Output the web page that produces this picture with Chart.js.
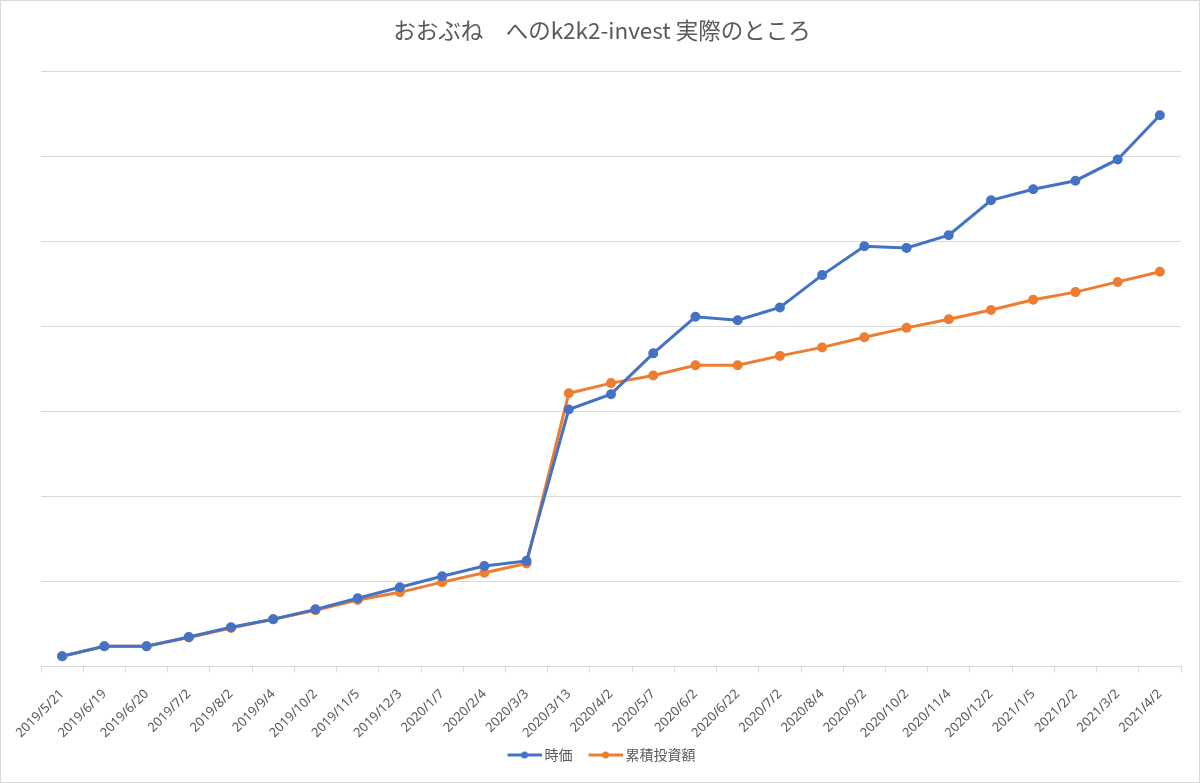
<!DOCTYPE html>
<html>
<head>
<meta charset="utf-8">
<script src="https://cdn.jsdelivr.net/npm/chart.js@4/dist/chart.umd.min.js"></script>
<style>
  html, body { margin: 0; padding: 0; background: #fff; }
  #wrap { width: 1200px; height: 783px; position: relative; }
</style>
</head>
<body>
<div id="wrap"><canvas id="chart" width="1200" height="783"></canvas></div>
<script>
// data (one grid step = 100000)
var labels = ['2019/5/21', '2019/6/19', '2019/6/20', '2019/7/2', '2019/8/2', '2019/9/4', '2019/10/2',
  '2019/11/5', '2019/12/3', '2020/1/7', '2020/2/4', '2020/3/3', '2020/3/13', '2020/4/2', '2020/5/7',
  '2020/6/2', '2020/6/22', '2020/7/2', '2020/8/4', '2020/9/2', '2020/10/2', '2020/11/4', '2020/12/2',
  '2021/1/5', '2021/2/2', '2021/3/2', '2021/4/2'];
var marketValue = [11800, 23500, 23500, 34500, 46000, 55300, 67000, 80000, 93000, 106000, 118000, 124000,
  302000, 320000, 368000, 411000, 407000, 422000, 460000, 494000, 492000, 507000, 548000, 561000,
  571000, 596000, 648000];
var invested = [11800, 23500, 23500, 34000, 45000, 55300, 66000, 78000, 87000, 99000, 110000, 121000,
  321000, 333000, 342000, 354000, 354000, 365000, 375000, 387000, 398000, 408000, 419000, 431000,
  440000, 452000, 464000];
var yTicks = [0, 100000, 200000, 300000, 400000, 500000, 600000, 700000];

var BLUE = '#4472C4';
var ORANGE = '#ED7D31';
var TEXT = '#595959';
var GRID = '#D9D9D9';

// line+dot legend symbol; the canvas is wider than the symbol so it sits right next to the text
function legendSymbol(color) {
  var c = document.createElement('canvas');
  c.width = 45; c.height = 10;
  var g = c.getContext('2d');
  g.strokeStyle = color; g.lineWidth = 3;
  g.beginPath(); g.moveTo(11, 5); g.lineTo(45, 5); g.stroke();
  g.fillStyle = color;
  g.beginPath(); g.arc(28, 5, 3.5, 0, Math.PI * 2); g.fill();
  return c;
}

var frame = {
  id: 'frame',
  beforeDraw: function (chart) {
    var ctx = chart.ctx;
    ctx.save();
    ctx.fillStyle = '#fff';
    ctx.fillRect(0, 0, chart.width, chart.height);
    ctx.strokeStyle = GRID;
    ctx.lineWidth = 1;
    ctx.strokeRect(0.5, 0.5, chart.width - 1, chart.height - 1);
    ctx.restore();
    // title and legend are centred on the whole picture, not on the plot
    chart.legend.left -= 13;
    chart.legend.right -= 13;
    chart.titleBlock.left -= 9;
    chart.titleBlock.right -= 9;
  }
};

var symbols = [legendSymbol(BLUE), legendSymbol(ORANGE)];

new Chart(document.getElementById('chart'), {
  type: 'line',
  data: {
    labels: labels,
    datasets: [{
      label: '時価',
      data: marketValue,
      borderColor: BLUE,
      backgroundColor: BLUE,
      borderWidth: 3,
      pointRadius: 3.5,
      pointHoverRadius: 3.5,
      tension: 0
    }, {
      label: '累積投資額',
      data: invested,
      borderColor: ORANGE,
      backgroundColor: ORANGE,
      borderWidth: 3,
      pointRadius: 3.5,
      pointHoverRadius: 3.5,
      tension: 0
    }]
  },
  options: {
    responsive: false,
    animation: false,
    layout: { padding: { left: 41, right: 19, top: 0, bottom: 11 } },
    plugins: {
      title: {
        display: true,
        text: 'おおぶね　へのk2k2-invest 実際のところ',
        color: TEXT,
        font: { family: '"Noto Sans CJK JP", "Noto Sans", sans-serif', size: 22.5, weight: 'normal' },
        padding: { top: 17, bottom: 27 }
      },
      legend: {
        position: 'bottom',
        labels: {
          color: TEXT,
          font: { family: '"Noto Sans CJK JP", sans-serif', size: 14 },
          usePointStyle: true,
          pointStyleWidth: 37,
          boxHeight: 10,
          padding: 9,
          generateLabels: function (chart) {
            return chart.data.datasets.map(function (ds, i) {
              return {
                text: ds.label,
                fillStyle: ds.borderColor,
                strokeStyle: ds.borderColor,
                fontColor: TEXT,
                pointStyle: symbols[i],
                lineWidth: 0,
                datasetIndex: i,
                hidden: false
              };
            });
          }
        }
      },
      tooltip: { enabled: false }
    },
    scales: {
      x: {
        offset: true,
        grid: { display: true, drawOnChartArea: false, drawTicks: true, tickLength: 6, color: GRID, offset: true },
        border: { color: GRID, width: 1 },
        ticks: {
          color: TEXT,
          font: { family: '"Noto Sans", "Open Sans", sans-serif', size: 13 },
          minRotation: 45,
          maxRotation: 45,
          autoSkip: false,
          padding: 14
        },
        afterFit: function (scale) {
          // the rotated label box is taller than the text really needs
          scale.height -= 16;
        }
      },
      y: {
        min: 0,
        max: 700000,
        afterBuildTicks: function (axis) {
          axis.ticks = yTicks.map(function (v) { return { value: v }; });
        },
        grid: { color: GRID, lineWidth: 1, drawTicks: false },
        border: { display: false },
        ticks: { display: false }
      }
    }
  },
  plugins: [frame]
});
</script>
</body>
</html>
